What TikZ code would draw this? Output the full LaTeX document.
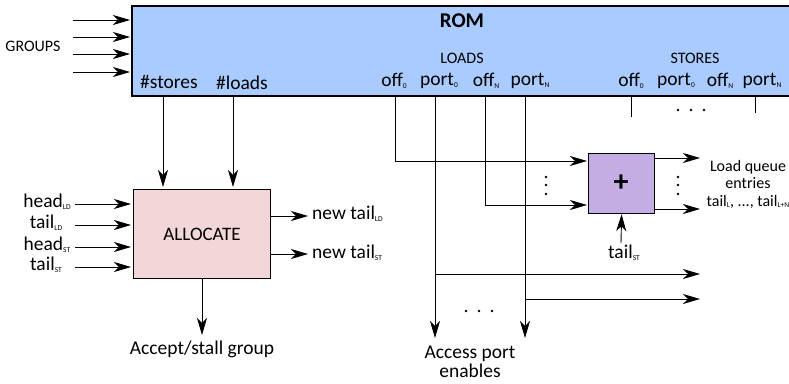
\documentclass[tikz,border=0pt]{standalone}
\usepackage{fontspec}
\setmainfont{Carlito}
\usetikzlibrary{arrows.meta}
\definecolor{romblue}{HTML}{A9CBFF}
\definecolor{allocpink}{HTML}{F2D6D8}
\definecolor{adderpurple}{HTML}{C4ADE5}
\newcommand\dn[1]{\raisebox{-1.8pt}{\fontsize{7.5}{8}\selectfont #1}}
\newcommand\fs[1]{\fontsize{#1}{#1}\selectfont}
\tikzset{
  wire/.style={line width=0.9pt,-{Stealth[length=17pt,width=10pt,inset=5pt]}},
  plain/.style={line width=0.9pt},
  lbl/.style={inner sep=0pt,font=\fs{19.5}},
  small/.style={inner sep=0pt,font=\fs{16}},
  dot/.style={fill,circle,inner sep=0pt,minimum size=2.8pt},
}
\begin{document}
\begin{tikzpicture}[x=1pt,y=-1pt]
\useasboundingbox (0,0) rectangle (789,383);

% ROM block
\node[draw,line width=2pt,fill=romblue,minimum width=700pt,minimum height=90pt,
      anchor=north west,inner sep=0pt] (rom) at (131,5) {};
\node[font=\fs{21}\bfseries,inner sep=0pt] (romt) at (462,21) {ROM};

% group inputs
\node[small] (groups) at (33,46) {GROUPS};
\foreach \y/\n in {20/a,37/b,54/c,72/d}{
  \coordinate (g\n) at (73,\y);
  \coordinate (G\n) at (130,\y);
  \draw[wire] (g\n) -- (G\n);
}

% ROM outputs
\node[lbl] (nst) at (169,82) {\#stores};
\node[lbl] (nld) at (242,83) {\#loads};
\node[small] (loads) at (462,58) {LOADS};
\node[small] (stores) at (695,58) {STORES};
\node[lbl] (loff0) at (394,81) {off\dn{0}};
\node[lbl] (lport0) at (439,81) {port\dn{0}};
\node[lbl] (loffN) at (486,81) {off\dn{N}};
\node[lbl] (lportN) at (530,81) {port\dn{N}};
\node[lbl] (soff0) at (631,81) {off\dn{0}};
\node[lbl] (sport0) at (676,81) {port\dn{0}};
\node[lbl] (soffN) at (720,81) {off\dn{N}};
\node[lbl] (sportN) at (762,81) {port\dn{N}};

% stub outputs of the store section
\coordinate (s0t) at (631,96); \coordinate (s0b) at (631,117);
\coordinate (sNt) at (755,96); \coordinate (sNb) at (755,113);
\draw[plain] (s0t) -- (s0b);
\draw[plain] (sNt) -- (sNb);
\foreach \x/\n in {678/a,691/b,704/c} \node[dot] (sd\n) at (\x,110) {};

% ALLOCATE block
\node[draw,line width=1.2pt,fill=allocpink,minimum width=137pt,minimum height=89pt,
      anchor=north west,inner sep=0pt,font=\fs{19}] (alloc) at (133,189) {ALLOCATE};
\coordinate (st0) at (163,96); \coordinate (st1) at (163,187);
\coordinate (ld0) at (233,96); \coordinate (ld1) at (233,187);
\draw[wire] (st0) -- (st1);
\draw[wire] (ld0) -- (ld1);

\foreach \y/\t/\x/\n in {204/head\dn{LD}/47/ha,225/tail\dn{LD}/46/ta,247/head\dn{ST}/47/hb,267/tail\dn{ST}/46/tb}{
  \node[lbl] (l\n) at (\x,\y-2) {\t};
  \coordinate (i\n) at (75,\y);
  \coordinate (I\n) at (131,\y);
  \draw[wire] (i\n) -- (I\n);
}

\coordinate (o1) at (270,216); \coordinate (O1) at (308,216);
\coordinate (o2) at (270,254); \coordinate (O2) at (308,254);
\draw[wire] (o1) -- (O1);
\draw[wire] (o2) -- (O2);
\node[lbl,anchor=west] (ntl) at (312,214) {new tail\dn{LD}};
\node[lbl,anchor=west] (nts) at (312,253) {new tail\dn{ST}};

\coordinate (a0) at (202,278);
\node[lbl] (accept) at (202,349) {Accept/stall group};
\draw[wire] (a0) -- (202,335);

% adder
\node[draw,line width=1.2pt,fill=adderpurple,minimum width=66pt,minimum height=60pt,
      anchor=north west,inner sep=0pt] (add) at (588,153) {};
\node[font=\fs{30}\bfseries,inner sep=0pt] (plus) at (621,183) {+};

\coordinate (f0) at (395,96);
\coordinate (fN) at (485,96);
\draw[wire] (f0) |- (587,161);
\draw[wire] (fN) |- (587,205);
\foreach \y/\n in {177/a,185/b,194/c}{
  \node[dot] (vl\n) at (546,\y) {};
  \node[dot] (vr\n) at (678,\y) {};
}

\coordinate (q1) at (654,158); \coordinate (Q1) at (700,158);
\coordinate (q2) at (654,209); \coordinate (Q2) at (700,209);
\draw[wire] (q1) -- (Q1);
\draw[wire] (q2) -- (Q2);
\node[font=\fs{16},inner sep=0pt,align=center] (lq) at (748,184)
  {Load queue\\[1.5pt] entries\\[1.5pt] tail\dn{L}, ..., tail\dn{L+N}};

\coordinate (tst) at (621,243);
\draw[wire] (tst) -- (add.south);
\node[lbl] (tstl) at (624,253) {tail\dn{ST}};

% access port enables
\coordinate (p0) at (435,96);
\coordinate (pN) at (525,96);
\draw[wire] (p0) -- (435,338);
\draw[wire] (pN) -- (525,338);
\draw[wire] (435,274) -- (700,274);
\draw[wire] (525,299) -- (700,299);
\foreach \x/\n in {466/a,479/b,492/c} \node[dot] (pd\n) at (\x,311) {};
\node[lbl,align=center] (ape) at (470,362) {Access port\\[0pt] enables};
\end{tikzpicture}
\end{document}
